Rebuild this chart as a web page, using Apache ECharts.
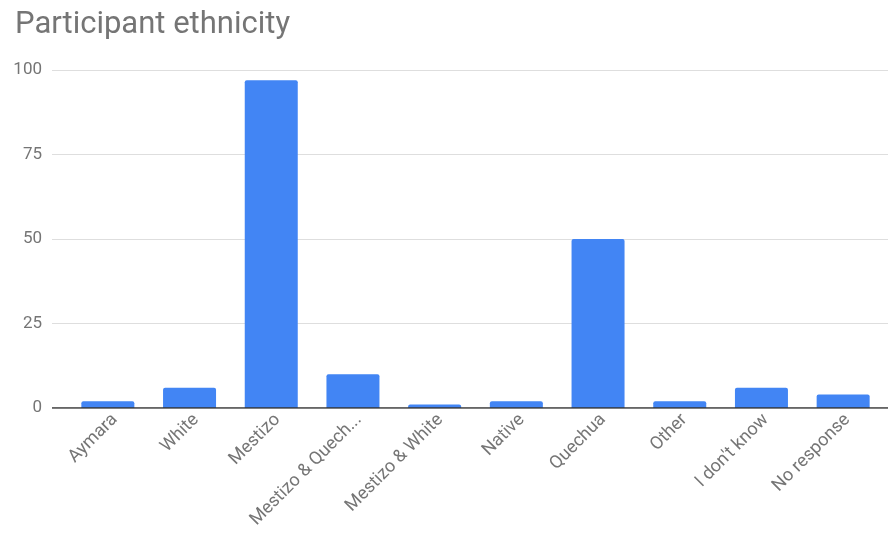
<!DOCTYPE html>
<html>
<head>
<meta charset="utf-8">
<script src="https://cdn.jsdelivr.net/npm/echarts@6/dist/echarts.min.js"></script>
<style>
  html, body { margin: 0; padding: 0; background: #fff; }
  #chart { width: 888px; height: 539px; }
</style>
</head>
<body>
<div id="chart"></div>
<script>
// Survey response counts per ethnicity
const categories = ['Aymara', 'White', 'Mestizo', 'Mestizo & Quechua', 'Mestizo & White',
                    'Native', 'Quechua', 'Other', "I don't know", 'No response'];
const counts = [2, 6, 97, 10, 1, 2, 50, 2, 6, 4];
const yTicks = [0, 25, 50, 75, 100];

const font = 'Roboto, "Noto Sans", sans-serif';
const grey = '#757575';
const labelShift = 7; // rotated labels sit slightly right of the bar centres

const chart = echarts.init(document.getElementById('chart'), null, { renderer: 'canvas' });

chart.setOption({
  animation: false,
  title: {
    text: 'Participant ethnicity',
    left: 10, top: 5,
    textStyle: { fontFamily: font, fontSize: 31, fontWeight: 'normal', color: grey }
  },
  grid: [
    // gridline frame, spans the full plot width
    { left: 52, right: 0, top: 70, height: 338 },
    // bars
    { left: 67, right: 4, top: 70, height: 338 },
    // category labels
    { left: 67 + labelShift, right: 4 - labelShift, top: 70, height: 338 }
  ],
  xAxis: [
    {
      gridIndex: 0, type: 'value', min: 0, max: 1,
      axisLine: { show: false }, axisTick: { show: false },
      axisLabel: { show: false }, splitLine: { show: false }
    },
    {
      gridIndex: 1, type: 'category', data: categories,
      axisLine: { show: false }, axisTick: { show: false },
      axisLabel: { show: false }
    },
    {
      gridIndex: 2, type: 'category', data: categories,
      axisLine: { show: false }, axisTick: { show: false },
      axisLabel: {
        rotate: 45, interval: 0, margin: 9,
        color: grey, fontFamily: font, fontSize: 18,
        formatter: v => v.length > 15 ? v.slice(0, 15) + '...' : v
      }
    }
  ],
  yAxis: [
    {
      gridIndex: 0, type: 'value', min: yTicks[0], max: yTicks[yTicks.length - 1], interval: 25,
      axisLine: { show: false }, axisTick: { show: false },
      axisLabel: { color: grey, fontFamily: font, fontSize: 17, margin: 10 },
      splitLine: { lineStyle: { color: '#dedede', width: 1 } }
    },
    {
      gridIndex: 1, type: 'value', min: 0, max: 100,
      axisLine: { show: false }, axisTick: { show: false },
      axisLabel: { show: false }, splitLine: { show: false }
    },
    {
      gridIndex: 2, type: 'value', min: 0, max: 100,
      axisLine: { show: false }, axisTick: { show: false },
      axisLabel: { show: false }, splitLine: { show: false }
    }
  ],
  series: [
    {
      type: 'bar',
      xAxisIndex: 1, yAxisIndex: 1,
      data: counts,
      barWidth: 53,
      itemStyle: { color: '#4285f4', borderRadius: [2, 2, 0, 0] },
      z: 3
    },
    {
      // baseline at zero
      type: 'line',
      xAxisIndex: 0, yAxisIndex: 0,
      data: [[0, 0], [1, 0]],
      symbol: 'none',
      lineStyle: { color: '#333', width: 1.5 },
      z: 4, silent: true
    }
  ]
});
</script>
</body>
</html>
